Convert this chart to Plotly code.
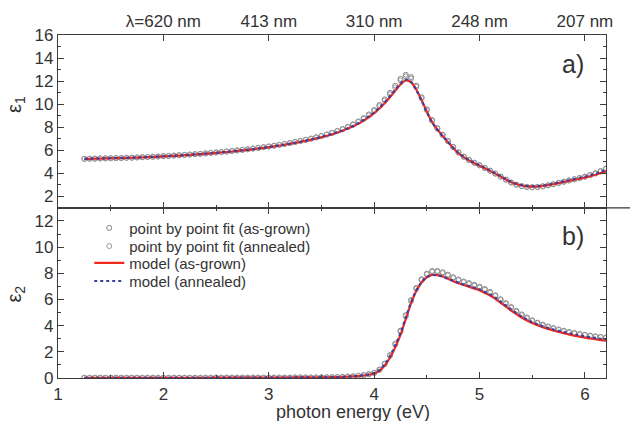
import plotly.graph_objects as go

# photon energy grid (eV)
energy = [1.25,1.30,1.35,1.40,1.45,1.50,1.55,1.60,1.65,1.70,
          1.75,1.80,1.85,1.90,1.95,2.00,2.05,2.10,2.15,2.20,
          2.25,2.30,2.35,2.40,2.45,2.50,2.55,2.60,2.65,2.70,
          2.75,2.80,2.85,2.90,2.95,3.00,3.05,3.10,3.15,3.20,
          3.25,3.30,3.35,3.40,3.45,3.50,3.55,3.60,3.65,3.70,
          3.75,3.80,3.85,3.90,3.95,4.00,4.05,4.10,4.15,4.20,
          4.25,4.30,4.35,4.40,4.45,4.50,4.55,4.60,4.65,4.70,
          4.75,4.80,4.85,4.90,4.95,5.00,5.05,5.10,5.15,5.20,
          5.25,5.30,5.35,5.40,5.45,5.50,5.55,5.60,5.65,5.70,
          5.75,5.80,5.85,5.90,5.95,6.00,6.05,6.10,6.15,6.20]

# epsilon_1
eps1_pts_grown = [5.26,5.27,5.28,5.29,5.30,5.31,5.32,5.33,5.35,5.36,
                  5.38,5.40,5.42,5.44,5.46,5.49,5.51,5.54,5.57,5.60,
                  5.63,5.66,5.69,5.73,5.77,5.81,5.85,5.89,5.94,5.99,
                  6.04,6.09,6.15,6.21,6.27,6.33,6.40,6.47,6.55,6.63,
                  6.72,6.81,6.91,7.01,7.12,7.24,7.37,7.51,7.67,7.84,
                  8.03,8.25,8.50,8.79,9.11,9.49,9.93,10.42,10.98,11.60,
                  12.20,12.55,12.35,11.60,10.60,9.55,8.62,7.92,7.35,6.82,
                  6.30,5.82,5.45,5.16,4.92,4.70,4.47,4.23,3.98,3.72,
                  3.45,3.20,3.00,2.88,2.81,2.78,2.80,2.86,2.95,3.05,
                  3.16,3.27,3.38,3.49,3.60,3.72,3.86,4.02,4.20,4.42]
eps1_pts_annealed = [5.25,5.26,5.27,5.28,5.29,5.30,5.31,5.32,5.34,5.35,
                     5.37,5.39,5.41,5.43,5.45,5.48,5.50,5.53,5.56,5.59,
                     5.62,5.65,5.68,5.72,5.76,5.80,5.84,5.88,5.93,5.98,
                     6.03,6.08,6.14,6.20,6.26,6.32,6.39,6.46,6.54,6.62,
                     6.71,6.80,6.90,7.00,7.11,7.23,7.36,7.50,7.66,7.82,
                     8.00,8.21,8.45,8.72,9.03,9.40,9.82,10.30,10.85,11.45,
                     12.05,12.40,12.22,11.50,10.52,9.48,8.56,7.88,7.31,6.78,
                     6.27,5.80,5.44,5.15,4.91,4.69,4.46,4.22,3.97,3.71,
                     3.45,3.21,3.02,2.90,2.83,2.80,2.82,2.88,2.96,3.06,
                     3.17,3.27,3.38,3.48,3.59,3.70,3.83,3.98,4.16,4.38]
eps1_model_grown = [5.25,5.26,5.27,5.28,5.29,5.30,5.31,5.32,5.33,5.35,
                    5.36,5.38,5.40,5.42,5.44,5.47,5.49,5.52,5.54,5.57,
                    5.60,5.63,5.66,5.70,5.73,5.77,5.81,5.85,5.89,5.94,
                    5.99,6.04,6.09,6.15,6.21,6.27,6.34,6.41,6.48,6.56,
                    6.64,6.73,6.82,6.92,7.03,7.14,7.26,7.39,7.54,7.70,
                    7.88,8.08,8.31,8.57,8.87,9.22,9.62,10.08,10.60,11.15,
                    11.70,12.05,11.90,11.25,10.35,9.35,8.45,7.80,7.25,6.72,
                    6.20,5.75,5.40,5.12,4.88,4.66,4.44,4.21,3.97,3.72,
                    3.46,3.23,3.06,2.94,2.87,2.84,2.85,2.90,2.97,3.06,
                    3.15,3.25,3.35,3.44,3.53,3.63,3.74,3.87,4.02,4.18]
eps1_model_annealed = [5.26,5.27,5.28,5.29,5.30,5.31,5.32,5.33,5.34,5.36,
                       5.37,5.39,5.41,5.43,5.45,5.48,5.50,5.53,5.55,5.58,
                       5.61,5.64,5.67,5.71,5.74,5.78,5.82,5.86,5.90,5.95,
                       6.00,6.05,6.10,6.16,6.22,6.28,6.35,6.42,6.49,6.57,
                       6.65,6.74,6.83,6.93,7.04,7.15,7.27,7.41,7.56,7.72,
                       7.90,8.11,8.35,8.62,8.93,9.29,9.70,10.17,10.70,11.25,
                       11.80,12.12,11.92,11.22,10.30,9.30,8.42,7.78,7.24,6.72,
                       6.22,5.78,5.43,5.15,4.91,4.69,4.47,4.24,4.00,3.75,
                       3.49,3.26,3.09,2.97,2.90,2.87,2.89,2.94,3.01,3.10,
                       3.20,3.30,3.40,3.50,3.60,3.71,3.83,3.96,4.12,4.30]

# epsilon_2
eps2_pts_grown = [0.02,0.02,0.02,0.02,0.02,0.02,0.02,0.02,0.02,0.02,
                  0.02,0.02,0.02,0.02,0.02,0.02,0.02,0.02,0.02,0.02,
                  0.02,0.02,0.02,0.02,0.02,0.03,0.03,0.03,0.03,0.03,
                  0.03,0.03,0.03,0.03,0.03,0.03,0.03,0.03,0.03,0.03,
                  0.04,0.04,0.04,0.04,0.04,0.05,0.05,0.06,0.07,0.09,
                  0.11,0.13,0.17,0.22,0.29,0.40,0.65,1.10,1.75,2.62,
                  3.62,4.80,5.95,6.88,7.55,7.98,8.18,8.18,8.08,7.90,
                  7.70,7.53,7.38,7.25,7.12,6.98,6.80,6.58,6.32,6.02,
                  5.72,5.42,5.13,4.86,4.62,4.41,4.23,4.08,3.94,3.82,
                  3.71,3.61,3.52,3.44,3.37,3.30,3.24,3.18,3.14,3.10]
eps2_pts_annealed = [0.02,0.02,0.02,0.02,0.02,0.02,0.02,0.02,0.02,0.02,
                     0.02,0.02,0.02,0.02,0.02,0.02,0.02,0.02,0.02,0.02,
                     0.02,0.02,0.02,0.02,0.02,0.03,0.03,0.03,0.03,0.03,
                     0.03,0.03,0.03,0.03,0.03,0.03,0.03,0.03,0.03,0.03,
                     0.04,0.04,0.04,0.04,0.04,0.05,0.05,0.06,0.07,0.08,
                     0.10,0.12,0.16,0.21,0.28,0.38,0.62,1.06,1.70,2.56,
                     3.55,4.72,5.88,6.82,7.48,7.92,8.12,8.12,8.02,7.84,
                     7.64,7.47,7.32,7.19,7.06,6.92,6.74,6.52,6.26,5.96,
                     5.66,5.36,5.07,4.80,4.57,4.36,4.18,4.03,3.90,3.78,
                     3.67,3.57,3.48,3.40,3.33,3.27,3.21,3.16,3.12,3.08]
eps2_model_grown = [0.02,0.02,0.02,0.02,0.02,0.02,0.02,0.02,0.02,0.02,
                    0.02,0.02,0.02,0.02,0.02,0.02,0.02,0.02,0.02,0.02,
                    0.02,0.02,0.02,0.02,0.02,0.03,0.03,0.03,0.03,0.03,
                    0.03,0.03,0.03,0.03,0.03,0.03,0.03,0.03,0.03,0.03,
                    0.04,0.04,0.04,0.04,0.04,0.05,0.05,0.06,0.07,0.08,
                    0.10,0.12,0.15,0.19,0.25,0.34,0.55,0.95,1.55,2.35,
                    3.30,4.50,5.70,6.65,7.30,7.70,7.88,7.86,7.75,7.58,
                    7.40,7.24,7.10,6.97,6.84,6.70,6.50,6.30,6.05,5.75,
                    5.45,5.15,4.88,4.62,4.40,4.20,4.03,3.88,3.75,3.63,
                    3.52,3.42,3.33,3.24,3.16,3.09,3.02,2.96,2.90,2.85]
eps2_model_annealed = [0.02,0.02,0.02,0.02,0.02,0.02,0.02,0.02,0.02,0.02,
                       0.02,0.02,0.02,0.02,0.02,0.02,0.02,0.02,0.02,0.02,
                       0.02,0.02,0.02,0.02,0.02,0.03,0.03,0.03,0.03,0.03,
                       0.03,0.03,0.03,0.03,0.03,0.03,0.03,0.03,0.03,0.03,
                       0.04,0.04,0.04,0.04,0.04,0.05,0.05,0.06,0.07,0.08,
                       0.11,0.13,0.16,0.21,0.28,0.38,0.62,1.05,1.68,2.50,
                       3.45,4.62,5.78,6.70,7.32,7.70,7.86,7.84,7.74,7.58,
                       7.42,7.27,7.14,7.02,6.90,6.77,6.58,6.38,6.13,5.84,
                       5.54,5.24,4.96,4.70,4.48,4.28,4.11,3.96,3.83,3.71,
                       3.61,3.51,3.42,3.34,3.26,3.19,3.12,3.06,3.00,2.95]

top_tick_energy = [2, 3, 4, 5, 6]
top_tick_text = ["λ=620 nm", "413 nm", "310 nm", "248 nm", "207 nm"]

series_names = ["point by point fit (as-grown)", "point by point fit (annealed)",
                "model (as-grown)", "model (annealed)"]

AX = "#3c3c3c"
TXT = "#333333"
FONT = "Liberation Sans, Arial, sans-serif"
CIRC = "#858585"
RED = "#ee2a1e"
BLUE = "#3b3fa0"

fig = go.Figure()

legend_ids = ["legend", "legend2", "legend3", "legend4"]
panels = [
    ("x", "y", [eps1_pts_grown, eps1_pts_annealed, eps1_model_grown, eps1_model_annealed], False),
    ("x2", "y2", [eps2_pts_grown, eps2_pts_annealed, eps2_model_grown, eps2_model_annealed], True),
]
for xa, ya, data, show in panels:
    fig.add_trace(go.Scatter(x=energy, y=data[0], mode="markers", name=series_names[0],
                             marker=dict(symbol="circle-open", size=5, color=CIRC, line=dict(width=1, color=CIRC)),
                             xaxis=xa, yaxis=ya, showlegend=show, legend=legend_ids[0]))
    fig.add_trace(go.Scatter(x=energy, y=data[1], mode="markers", name=series_names[1],
                             marker=dict(symbol="circle-open", size=5, color="#999999", line=dict(width=1, color="#999999")),
                             xaxis=xa, yaxis=ya, showlegend=show, legend=legend_ids[1]))
    fig.add_trace(go.Scatter(x=energy, y=data[2], mode="lines", name=series_names[2],
                             line=dict(color=RED, width=2.2, shape="spline"),
                             xaxis=xa, yaxis=ya, showlegend=show, legend=legend_ids[2]))
    fig.add_trace(go.Scatter(x=energy, y=data[3], mode="lines", name=series_names[3],
                             line=dict(color=BLUE, width=2.2, dash="dot", shape="spline"),
                             xaxis=xa, yaxis=ya, showlegend=show, legend=legend_ids[3]))

common_axis = dict(showline=True, linecolor=AX, linewidth=1.3, showgrid=False, zeroline=False,
                   ticks="inside", tickcolor=AX, tickwidth=1.2, ticklen=6,
                   tickfont=dict(size=17, color=TXT, family=FONT))

leg_common = dict(x=0.057, xanchor="left", yanchor="middle", bgcolor="rgba(0,0,0,0)",
                  font=dict(size=15, color=TXT, family=FONT), itemwidth=30)
legend_rows = [0.437, 0.384, 0.335, 0.282]

fig.update_layout(
    width=630, height=421,
    margin=dict(l=58, r=24, t=29, b=43),
    paper_bgcolor="white", plot_bgcolor="white",
    font=dict(family=FONT, color=TXT),
    xaxis=dict(common_axis, domain=[0, 1], anchor="y", range=[1, 6.2], tick0=1, dtick=1,
               showticklabels=False,
               minor=dict(dtick=0.5, ticks="inside", ticklen=3, tickcolor=AX, tickwidth=1.2)),
    xaxis3=dict(common_axis, overlaying="x", anchor="y", side="top", range=[1, 6.2],
                tickmode="array", tickvals=top_tick_energy, ticktext=top_tick_text),
    yaxis=dict(common_axis, domain=[0.496, 1], anchor="x", range=[1, 16], tick0=0, dtick=2,
               mirror="ticks",
               minor=dict(dtick=1, ticks="inside", ticklen=3, tickcolor=AX, tickwidth=1.2)),
    xaxis2=dict(common_axis, domain=[0, 1], anchor="y2", range=[1, 6.2], tick0=1, dtick=1,
                mirror="ticks",
                minor=dict(dtick=0.5, ticks="inside", ticklen=3, tickcolor=AX, tickwidth=1.2)),
    yaxis2=dict(common_axis, domain=[0, 0.496], anchor="x2", range=[0, 13], tick0=0, dtick=2,
                mirror="ticks",
                minor=dict(dtick=1, ticks="inside", ticklen=3, tickcolor=AX, tickwidth=1.2)),
    legend=dict(leg_common, y=legend_rows[0]),
    legend2=dict(leg_common, y=legend_rows[1]),
    legend3=dict(leg_common, y=legend_rows[2]),
    legend4=dict(leg_common, y=legend_rows[3]),
    showlegend=True,
)

# dummy trace so xaxis3 is rendered
fig.add_trace(go.Scatter(x=[None], y=[None], xaxis="x3", yaxis="y", showlegend=False, hoverinfo="skip"))

fig.add_shape(type="line", xref="paper", yref="paper", x0=1, x1=1.05, y0=0.496, y1=0.496,
              line=dict(color=AX, width=1.3))

for txt, yy in [("a)", 0.915), ("b)", 0.414)]:
    fig.add_annotation(text=txt, x=0.94, y=yy, xref="paper", yref="paper", xanchor="center", yanchor="middle",
                       showarrow=False, font=dict(size=25, color=TXT, family=FONT))
fig.add_annotation(text="ε<sub>1</sub>", x=-0.078, y=0.797, xref="paper", yref="paper", textangle=-90,
                   xanchor="center", yanchor="middle",
                   showarrow=False, font=dict(size=20, color=TXT, family=FONT))
fig.add_annotation(text="ε<sub>2</sub>", x=-0.078, y=0.244, xref="paper", yref="paper", textangle=-90,
                   xanchor="center", yanchor="middle",
                   showarrow=False, font=dict(size=20, color=TXT, family=FONT))
fig.add_annotation(text="photon energy (eV)", x=0.538, y=-0.1, xref="paper", yref="paper",
                   xanchor="center", yanchor="middle",
                   showarrow=False, font=dict(size=18, color=TXT, family=FONT))

fig.write_html("out.html")
